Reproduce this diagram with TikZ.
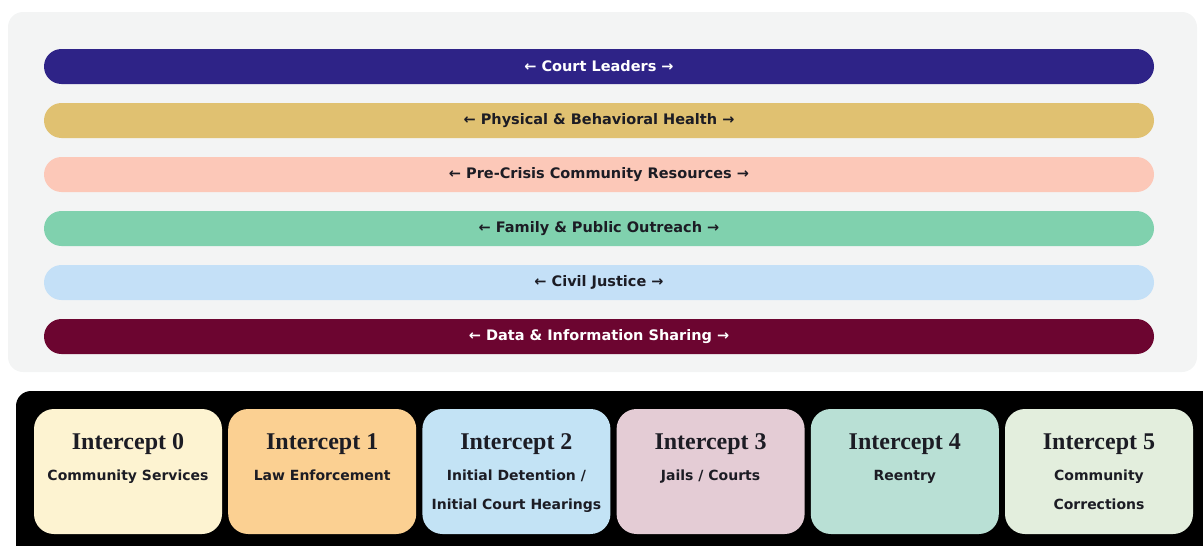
\documentclass[tikz,border=0pt]{standalone}
\usepackage{fontspec}
\setmainfont{DejaVu Sans}
\newfontfamily\headfont{Liberation Serif}
\usetikzlibrary{positioning}

\definecolor{panelgrey}{HTML}{F3F4F4}
\definecolor{leaders}{HTML}{2E2387}
\definecolor{health}{HTML}{E0C171}
\definecolor{precrisis}{HTML}{FCC8B8}
\definecolor{outreach}{HTML}{80D1AE}
\definecolor{civil}{HTML}{C4E0F7}
\definecolor{datashare}{HTML}{6C0530}
\definecolor{inkdark}{HTML}{1C1C24}
\definecolor{icpt0}{HTML}{FDF3D1}
\definecolor{icpt1}{HTML}{FBD092}
\definecolor{icpt2}{HTML}{C3E3F5}
\definecolor{icpt3}{HTML}{E4CCD5}
\definecolor{icpt4}{HTML}{B9E0D5}
\definecolor{icpt5}{HTML}{E3EEDD}

\tikzset{
  bar/.style={rounded corners=17.5pt, minimum width=1110pt, minimum height=35pt,
    inner sep=0pt, text=inkdark, font=\fontsize{14.5}{16}\selectfont\bfseries},
  ibox/.style={rounded corners=20pt, minimum width=188pt, minimum height=125pt, inner sep=0pt},
  ititle/.style={anchor=base, inner sep=0pt, text=inkdark,
    font=\headfont\fontsize{24}{26}\selectfont\bfseries},
  isub/.style={anchor=north, inner sep=0pt, align=center, text=inkdark,
    font=\fontsize{14}{29}\selectfont\bfseries},
}

\begin{document}
\begin{tikzpicture}[x=1pt, y=-1pt]
\useasboundingbox (0,0) rectangle (1203,546);
\clip (0,0) rectangle (1203,546);

% partner panel
\fill[panelgrey, rounded corners=15pt] (8,12) rectangle (1197,372);

\node[bar, fill=leaders, text=white] (leaders) at (599,66.5) {← Court Leaders →};
\node[bar, fill=health]    (health)    at (599,120.5) {← Physical \& Behavioral Health →};
\node[bar, fill=precrisis] (precrisis) at (599,174.5) {← Pre-Crisis Community Resources →};
\node[bar, fill=outreach]  (outreach)  at (599,228.5) {← Family \& Public Outreach →};
\node[bar, fill=civil]     (civil)     at (599,282.5) {← Civil Justice →};
\node[bar, fill=datashare, text=white] (datashare) at (599,336.5) {← Data \& Information Sharing →};

% intercept strip
\fill[black, rounded corners=15pt] (16,391) rectangle (1230,570);

\node[ibox, fill=icpt0] (i0) at (128,471.5) {};
\node[ibox, fill=icpt1] (i1) at (322.2,471.5) {};
\node[ibox, fill=icpt2] (i2) at (516.4,471.5) {};
\node[ibox, fill=icpt3] (i3) at (710.6,471.5) {};
\node[ibox, fill=icpt4] (i4) at (904.8,471.5) {};
\node[ibox, fill=icpt5] (i5) at (1099,471.5) {};

% struts keep the first baseline 20.3pt under the node top
\path (i0.north) ++(0,41) node[ititle] (t0) {Intercept 0} ++(0,9.7) node[isub] (s0) {\strut Community Services};
\path (i1.north) ++(0,41) node[ititle] (t1) {Intercept 1} ++(0,9.7) node[isub] (s1) {\strut Law Enforcement};
\path (i2.north) ++(0,41) node[ititle] (t2) {Intercept 2} ++(0,9.7) node[isub] (s2) {\strut Initial Detention /\\Initial Court Hearings};
\path (i3.north) ++(0,41) node[ititle] (t3) {Intercept 3} ++(0,9.7) node[isub] (s3) {\strut Jails / Courts};
\path (i4.north) ++(0,41) node[ititle] (t4) {Intercept 4} ++(0,9.7) node[isub] (s4) {\strut Reentry};
\path (i5.north) ++(0,41) node[ititle] (t5) {Intercept 5} ++(0,9.7) node[isub] (s5) {\strut Community\\Corrections};
\end{tikzpicture}
\end{document}
